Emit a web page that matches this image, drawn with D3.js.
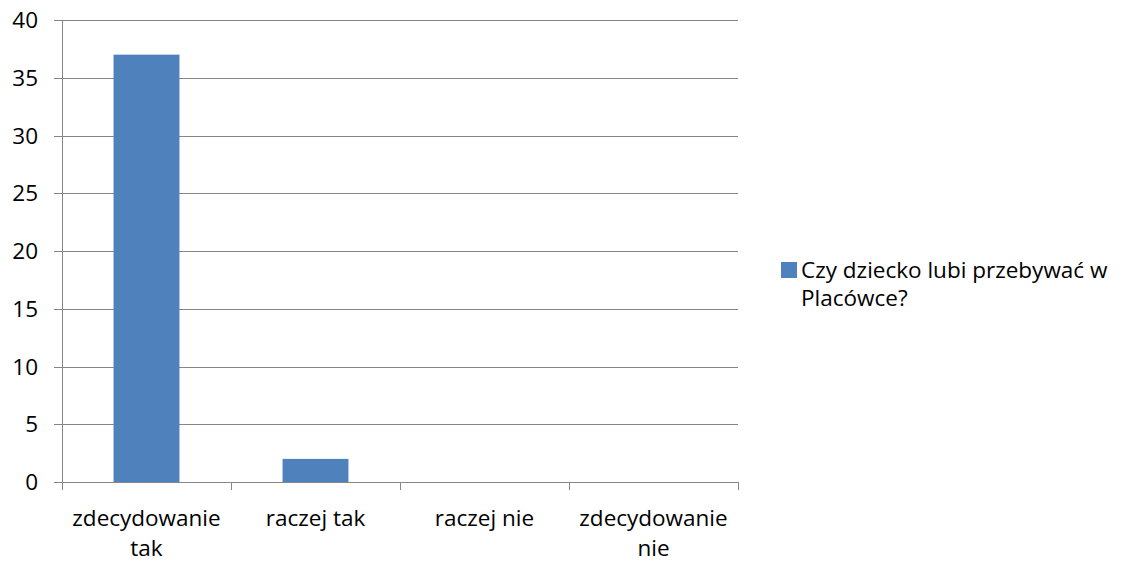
<!DOCTYPE html>
<html>
<head>
<meta charset="utf-8">
<script src="https://cdn.jsdelivr.net/npm/d3@7"></script>
<style>
  body { margin: 0; background: #fff; }
  text { font-family: "Open Sans", Lato, sans-serif; fill: #000; }
</style>
</head>
<body>
<script>
// dane z wykresu
var categories = [['zdecydowanie', 'tak'], ['raczej tak'], ['raczej nie'], ['zdecydowanie', 'nie']];
var values = [37, 2, 0, 0];
var yTicks = [0, 5, 10, 15, 20, 25, 30, 35, 40];
var seriesName = ['Czy dziecko lubi przebywać w', 'Placówce?'];

var W = 1124, H = 563;
var plotLeft = 62, plotRight = 738, plotTop = 20, plotBottom = 482;
var fontSize = '22.5px';

var svg = d3.select('body').append('svg')
  .attr('width', W)
  .attr('height', H);

var x = d3.scaleBand()
  .domain(d3.range(categories.length))
  .range([plotLeft, plotRight])
  .padding(0);

var y = d3.scaleLinear()
  .domain([0, 40])
  .range([plotBottom, plotTop]);

// linie siatki
svg.append('g')
  .selectAll('line')
  .data(yTicks)
  .enter().append('line')
  .attr('x1', plotLeft - 8)
  .attr('x2', plotRight)
  .attr('y1', function(d) { return Math.round(y(d)) + 0.5; })
  .attr('y2', function(d) { return Math.round(y(d)) + 0.5; })
  .attr('stroke', '#868686')
  .attr('stroke-width', 1);

// etykiety osi Y
svg.append('g')
  .selectAll('text')
  .data(yTicks)
  .enter().append('text')
  .attr('x', 38)
  .attr('y', function(d) { return y(d) + 8; })
  .attr('text-anchor', 'end')
  .style('font-size', fontSize)
  .text(function(d) { return d; });

// os Y
svg.append('line')
  .attr('x1', plotLeft + 0.5).attr('x2', plotLeft + 0.5)
  .attr('y1', plotTop).attr('y2', plotBottom)
  .attr('stroke', '#868686');

// slupki
var barW = x.bandwidth() * 0.39;
svg.selectAll('.bar')
  .data(values)
  .enter().append('rect')
  .attr('class', 'bar')
  .attr('x', function(d, i) { return x(i) + (x.bandwidth() - barW) / 2; })
  .attr('y', function(d) { return y(d); })
  .attr('width', barW)
  .attr('height', function(d) { return y(0) - y(d); })
  .attr('fill', '#4f81bd');

// os X z kreskami
var xTickPos = d3.range(categories.length + 1).map(function(i) {
  return i < categories.length ? x(i) : plotRight;
});
svg.append('line')
  .attr('x1', plotLeft).attr('x2', plotRight)
  .attr('y1', Math.round(y(0)) + 0.5).attr('y2', Math.round(y(0)) + 0.5)
  .attr('stroke', '#868686');
svg.append('g')
  .selectAll('line')
  .data(xTickPos)
  .enter().append('line')
  .attr('x1', function(d) { return Math.round(d) + 0.5; })
  .attr('x2', function(d) { return Math.round(d) + 0.5; })
  .attr('y1', y(0))
  .attr('y2', y(0) + 8)
  .attr('stroke', '#868686');

// etykiety kategorii
var lab = svg.append('g')
  .selectAll('text')
  .data(categories)
  .enter().append('text')
  .attr('text-anchor', 'middle')
  .attr('x', function(d, i) { return x(i) + x.bandwidth() / 2; })
  .attr('y', 526)
  .style('font-size', fontSize);
lab.selectAll('tspan')
  .data(function(d) { return d; })
  .enter().append('tspan')
  .attr('x', function() { return d3.select(this.parentNode).attr('x'); })
  .attr('dy', function(d, i) { return i === 0 ? 0 : 30; })
  .text(function(d) { return d; });

// legenda
svg.append('rect')
  .attr('x', 781).attr('y', 262)
  .attr('width', 16).attr('height', 16)
  .attr('fill', '#4f81bd');
svg.append('g')
  .selectAll('text')
  .data(seriesName)
  .enter().append('text')
  .attr('x', 801)
  .attr('y', function(d, i) { return 278 + i * 28; })
  .style('font-size', fontSize)
  .text(function(d) { return d; });
</script>
</body>
</html>
